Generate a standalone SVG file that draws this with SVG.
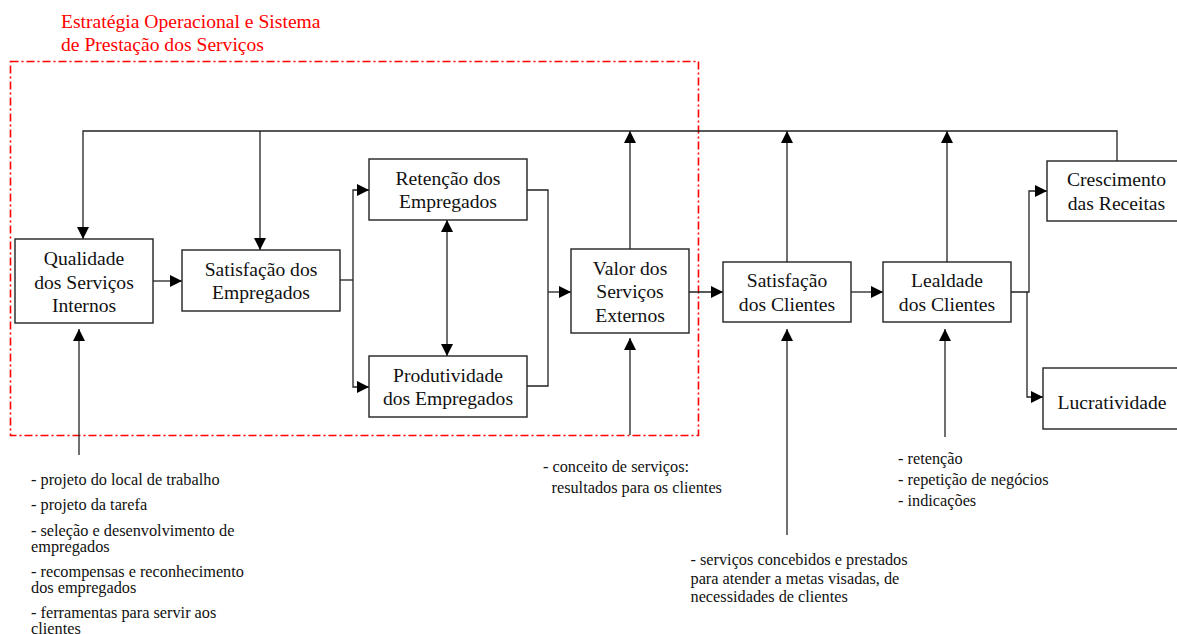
<svg xmlns="http://www.w3.org/2000/svg" width="1177" height="634" viewBox="0 0 1177 634">
<style>
.box{fill:#fff;stroke:#222;stroke-width:1.4}
.t{font-family:"Liberation Serif","Times New Roman",serif;font-size:19.6px;fill:#111;text-anchor:middle}
.s{font-family:"Liberation Serif","Times New Roman",serif;font-size:16.3px;fill:#111}
.title{font-family:"Liberation Serif","Times New Roman",serif;font-size:19.6px;fill:#ff0000}
.c{fill:none;stroke:#222;stroke-width:1.3}
.a{marker-end:url(#ah)}
</style>
<defs>
<marker id="ah" viewBox="0 0 10 10" refX="10" refY="5" markerWidth="12" markerHeight="12" markerUnits="userSpaceOnUse" orient="auto-start-reverse">
<path d="M0,0 L10,5 L0,10 z" fill="#000"/>
</marker>
</defs>
<rect width="1177" height="634" fill="#fff"/>
<g id="frame">
<text class="title" x="61" y="28">Estratégia Operacional e Sistema</text>
<text class="title" x="61" y="51">de Prestação dos Serviços</text>
<rect x="10.5" y="61.5" width="688" height="374" fill="none" stroke="#ff0000" stroke-width="1.6" stroke-dasharray="8,3,2,3"/>
</g>
<g id="connectors">
<path class="c a" d="M1117,161 V131 H83 V239"/>
<path class="c a" d="M260,131 V250"/>
<path class="c a" d="M630,249 V131"/>
<path class="c a" d="M787,262 V131"/>
<path class="c a" d="M947,262 V131"/>
<path class="c a" d="M153,281 H182"/>
<path class="c" d="M340,280 H353"/>
<path class="c a" d="M353,280 V190 H369"/>
<path class="c a" d="M353,280 V387 H369"/>
<path class="c" d="M527,190 H548 V386 H527"/>
<path class="c a" d="M548,292 H571"/>
<path class="c a" d="M447,220 V356" marker-start="url(#ah)"/>
<path class="c a" d="M689,292 H723"/>
<path class="c a" d="M851,292 H883"/>
<path class="c a" d="M1011,292 H1029 V191 H1047"/>
<path class="c a" d="M1027,292 V397 H1043"/>
<path class="c a" d="M79,455 V329"/>
<path class="c a" d="M630,435 V338"/>
<path class="c a" d="M787,535 V329"/>
<path class="c a" d="M945,437 V329"/>
</g>
<g id="qualidade">
<rect class="box" x="15" y="239" width="138" height="84"/>
<text class="t" x="84" y="265">Qualidade</text>
<text class="t" x="84" y="288.5">dos Serviços</text>
<text class="t" x="84" y="311.5">Internos</text>
</g>
<g id="satisfacao-empregados">
<rect class="box" x="182" y="250" width="158" height="61"/>
<text class="t" x="261" y="275.5">Satisfação dos</text>
<text class="t" x="261" y="298.5">Empregados</text>
</g>
<g id="retencao">
<rect class="box" x="369" y="159" width="158" height="61"/>
<text class="t" x="448" y="185">Retenção dos</text>
<text class="t" x="448" y="208">Empregados</text>
</g>
<g id="produtividade">
<rect class="box" x="369" y="356" width="158" height="61"/>
<text class="t" x="448" y="382">Produtividade</text>
<text class="t" x="448" y="405">dos Empregados</text>
</g>
<g id="valor">
<rect class="box" x="571" y="249" width="118" height="84"/>
<text class="t" x="630" y="275">Valor dos</text>
<text class="t" x="630" y="298">Serviços</text>
<text class="t" x="630" y="321.5">Externos</text>
</g>
<g id="satisfacao-clientes">
<rect class="box" x="723" y="262" width="128" height="60"/>
<text class="t" x="787" y="286.5">Satisfação</text>
<text class="t" x="787" y="310.5">dos Clientes</text>
</g>
<g id="lealdade">
<rect class="box" x="883" y="262" width="128" height="60"/>
<text class="t" x="947" y="286.5">Lealdade</text>
<text class="t" x="947" y="310.5">dos Clientes</text>
</g>
<g id="crescimento">
<rect class="box" x="1047" y="161" width="140" height="60"/>
<text class="t" x="1116.5" y="186">Crescimento</text>
<text class="t" x="1116.5" y="210">das Receitas</text>
</g>
<g id="lucratividade">
<rect class="box" x="1043" y="368" width="145" height="61"/>
<text class="t" x="1112" y="408.5">Lucratividade</text>
</g>
<g id="notes-qualidade">
<text class="s" x="31" y="485">- projeto do local de trabalho</text>
<text class="s" x="31" y="510">- projeto da tarefa</text>
<text class="s" x="31" y="535.5">- seleção e desenvolvimento de</text>
<text class="s" x="31" y="551.5">empregados</text>
<text class="s" x="31" y="577">- recompensas e reconhecimento</text>
<text class="s" x="31" y="593">dos empregados</text>
<text class="s" x="31" y="618">- ferramentas para servir aos</text>
<text class="s" x="31" y="633.5">clientes</text>
</g>
<g id="notes-valor">
<text class="s" x="543" y="471.5">- conceito de serviços:</text>
<text class="s" x="551.5" y="492.5">resultados para os clientes</text>
</g>
<g id="notes-satisfacao">
<text class="s" x="690.5" y="565">- serviços concebidos e prestados</text>
<text class="s" x="690.5" y="583.5">para atender a metas visadas, de</text>
<text class="s" x="690.5" y="601.5">necessidades de clientes</text>
</g>
<g id="notes-lealdade">
<text class="s" x="898" y="464">- retenção</text>
<text class="s" x="898" y="485">- repetição de negócios</text>
<text class="s" x="898" y="506">- indicações</text>
</g>
</svg>
